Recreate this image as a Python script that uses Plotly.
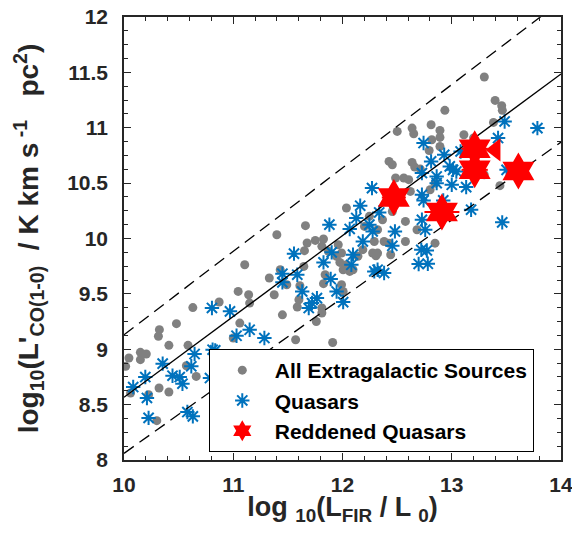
import plotly.graph_objects as go

# all extragalactic sources (grey dots)
all_x = [10.015, 10.045, 10.15, 10.204, 10.15, 10.324, 10.315, 10.48, 10.63, 10.871,
         10.411, 10.586, 10.571, 10.661, 10.321, 10.411, 10.225, 10.06, 10.3,
         12.036, 11.661, 11.399, 11.676, 11.751, 11.826, 11.811, 11.871, 11.961, 11.991,
         11.946, 11.976, 12.036, 12.066, 12.141, 12.186, 12.276, 12.006, 12.096, 11.652,
         11.105, 11.43, 11.33, 11.646, 11.49, 11.61, 11.841, 11.826, 11.991, 12.006,
         11.045, 11.141, 11.375, 11.15, 11.601, 11.586, 11.811, 11.811, 11.45, 11.76,
         11.06, 11.0, 11.571, 11.91, 12.246,
         12.501, 12.637, 12.652, 12.426, 12.456, 12.637, 12.661, 12.712, 12.486, 12.561,
         12.606, 12.621, 12.802, 12.847, 12.456, 12.576, 12.682, 12.366, 12.201, 12.321,
         12.291, 12.381, 12.426, 12.576, 12.847, 12.441, 12.321, 12.306,
         13.298, 13.397, 13.457, 13.463, 12.937, 13.382, 12.811, 12.892, 12.892, 12.817,
         13.111, 13.2, 12.793, 12.892, 13.441, 13.297]
all_y = [8.846, 8.921, 8.972, 8.957, 8.906, 9.177, 9.117, 9.231, 9.376, 9.427,
         9.035, 9.035, 8.851, 8.755, 8.65, 8.614, 8.59, 8.605, 8.355,
         10.275, 10.116, 10.034, 9.959, 9.983, 9.995, 9.929, 9.884, 9.944, 9.869,
         9.839, 9.784, 9.763, 9.703, 9.839, 9.899, 9.869, 9.718, 9.718, 9.89,
         9.763, 9.718, 9.643, 9.748, 9.582, 9.573, 9.673, 9.592, 9.583, 9.522,
         9.522, 9.492, 9.492, 9.417, 9.447, 9.381, 9.372, 9.327, 9.311, 9.251,
         9.236, 9.101, 9.086, 9.061, 10.2,
         10.967, 10.997, 10.946, 10.696, 10.666, 10.687, 10.645, 10.627, 10.546, 10.546,
         10.531, 10.425, 10.44, 10.5, 10.244, 10.154, 10.079, 10.169, 10.109, 10.079,
         9.973, 9.973, 9.958, 9.973, 9.958, 9.853, 9.868, 9.844,
         11.458, 11.247, 11.199, 11.157, 11.157, 11.048, 11.027, 10.976, 10.913, 10.892,
         10.937, 10.907, 10.795, 10.831, 10.477, 10.576]

# quasars (blue asterisks)
qso_x = [10.805, 10.811, 10.835, 10.646, 10.616, 10.354, 10.195, 10.084, 10.444, 10.51,
         10.535, 10.21, 10.225, 10.58, 10.63, 11.32, 10.787,
         12.162, 12.126, 12.246, 12.276, 12.186, 11.88, 12.066, 11.556, 11.901, 11.826,
         12.096, 12.081, 11.45, 11.586, 11.45, 11.892, 11.946, 11.631, 11.766, 11.721,
         11.691, 12.006, 10.97, 11.15, 11.03, 11.285, 12.291,
         12.742, 12.727, 12.862, 12.27, 13.0, 13.132, 12.727, 12.742, 12.922, 12.336,
         12.48, 13.177, 12.727, 12.757, 12.456, 12.721, 12.772,
         13.484, 13.784, 13.424, 13.081, 12.931, 12.811, 12.982, 13.012, 13.042, 12.862,
         13.502, 12.781, 12.697, 12.321, 12.381, 13.462]
qso_y = [9.373, 8.996, 8.99, 8.957, 8.846, 8.87, 8.749, 8.659, 8.761, 8.749,
         8.689, 8.56, 8.38, 8.433, 8.394, 8.906, 8.74,
         10.296, 10.185, 10.125, 10.064, 9.974, 10.125, 10.086, 9.863, 9.875, 9.784,
         9.854, 9.763, 9.682, 9.673, 9.604, 9.634, 9.522, 9.522, 9.462, 9.417,
         9.372, 9.426, 9.342, 9.176, 9.122, 9.101, 9.703,
         10.862, 10.591, 10.5, 10.455, 10.485, 10.464, 10.395, 10.344, 10.344, 10.235,
         10.064, 10.26, 10.169, 10.079, 9.934, 9.898, 9.892,
         11.057, 10.997, 10.907, 10.786, 10.756, 10.696, 10.651, 10.62, 10.605, 10.56,
         10.62, 9.772, 9.77, 9.718, 9.688, 10.146]

# reddened quasars (red stars) and the upper limit (triangle)
red_x = [12.47, 12.91, 13.21, 13.21, 13.61]
red_y = [10.37, 10.24, 10.81, 10.62, 10.61]
red_xerr = [0.11, 0.16, 0.12, 0.12, 0.0]
lim_x = [13.40]
lim_y = [10.80]

# relation and scatter lines
fit_x = [10, 14]
fit_y = [8.566, 11.486]
upper_y = [9.131, 12.143]
lower_y = [8.06, 10.87]

font = "Liberation Sans, Arial, sans-serif"
axcol = "#262626"

fig = go.Figure()
fig.add_trace(go.Scatter(x=all_x, y=all_y, mode='markers', name='All Extragalactic Sources',
                         marker=dict(color='#808080', size=9)))
fig.add_trace(go.Scatter(x=qso_x, y=qso_y, mode='markers', name='Quasars',
                         marker=dict(symbol='asterisk-open', size=12, color='#0072BD',
                                     line=dict(color='#0072BD', width=2))))
fig.add_trace(go.Scatter(x=fit_x, y=fit_y, mode='lines', showlegend=False,
                         line=dict(color='black', width=1.3)))
fig.add_trace(go.Scatter(x=fit_x, y=upper_y, mode='lines', showlegend=False,
                         line=dict(color='black', width=1.3, dash='12px,7px')))
fig.add_trace(go.Scatter(x=fit_x, y=lower_y, mode='lines', showlegend=False,
                         line=dict(color='black', width=1.3, dash='12px,7px')))
fig.add_trace(go.Scatter(x=lim_x, y=lim_y, mode='markers', showlegend=False,
                         marker=dict(symbol='triangle-left', size=20, color='red')))
fig.add_trace(go.Scatter(x=red_x, y=red_y, mode='markers', name='Reddened Quasars',
                         marker=dict(symbol='hexagram', size=28, color='red'),
                         error_x=dict(type='data', array=red_xerr, color='red',
                                      thickness=2, width=0)))

axis_common = dict(showline=True, linecolor=axcol, linewidth=1.5, mirror='ticks',
                   ticks='inside', ticklen=7, tickcolor=axcol, showgrid=False,
                   zeroline=False, automargin=False, ticklabeloverflow='allow',
                   tickfont=dict(family=font, size=21, color='#262626', weight='bold'))

fig.update_xaxes(range=[10, 14], dtick=1, ticklabelstandoff=5,
                 minor=dict(dtick=0.2, ticks='inside', ticklen=4, tickcolor=axcol),
                 title=dict(text='log <sub>10</sub>(L<sub>FIR</sub> / L <sub>0</sub>)',
                            font=dict(family=font, size=27, color='#262626', weight='bold'),
                            standoff=4),
                 **axis_common)
fig.update_yaxes(range=[8, 12], dtick=0.5, ticklabelstandoff=10,
                 minor=dict(dtick=0.125, ticks='inside', ticklen=4, tickcolor=axcol),
                 title=dict(text="log<sub>10</sub>(L'<sub>CO(1-0)</sub>  / K km s<sup> -1</sup>   pc<sup>2</sup>)",
                            font=dict(family=font, size=28, color='#262626', weight='bold'),
                            standoff=20),
                 **axis_common)

# page body has an 8px margin: keep the figure (and the "14" label) inside the window
fig.update_layout(
    width=564, height=518,
    margin=dict(l=116, r=11, t=9, b=66),
    plot_bgcolor='white', paper_bgcolor='white',
    legend=dict(x=0.194, y=0.018, xanchor='left', yanchor='bottom', itemwidth=55,
                bgcolor='white', bordercolor='black', borderwidth=1,
                font=dict(family=font, size=21, color='black', weight='bold')),
)

fig.write_html("out.html")
